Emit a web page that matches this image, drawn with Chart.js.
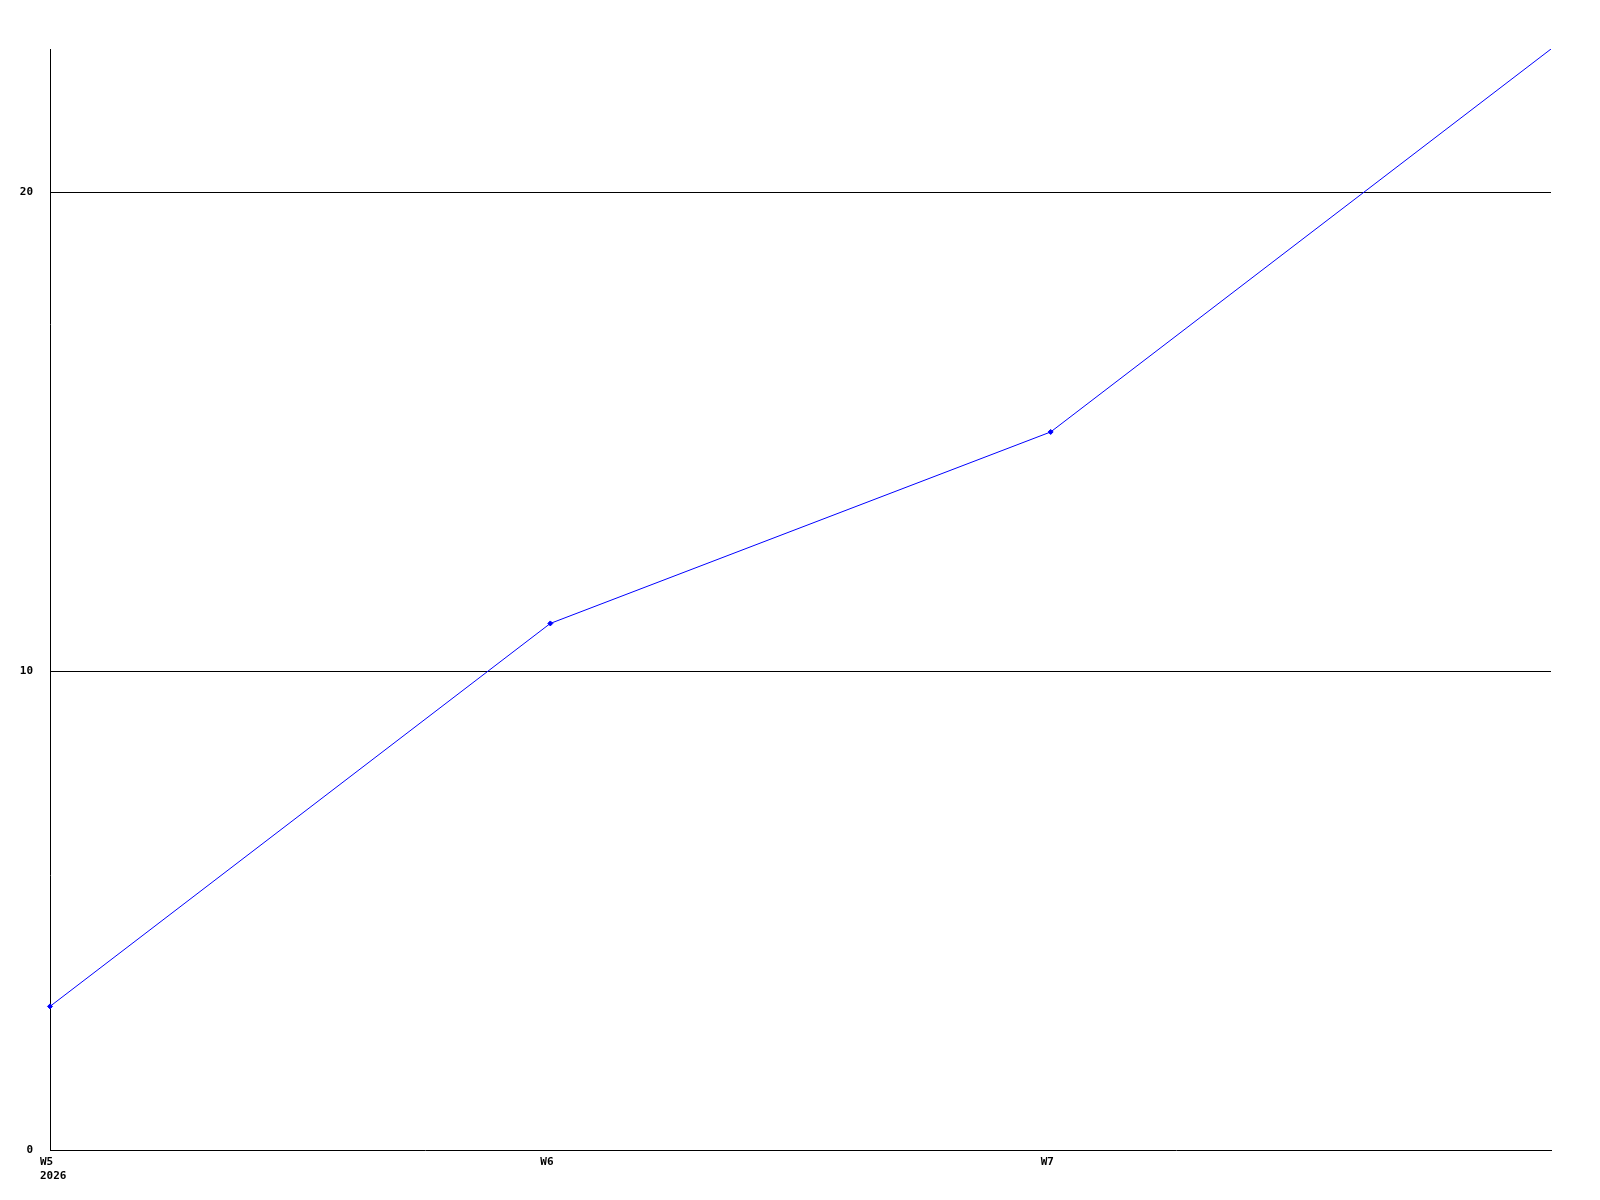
<!DOCTYPE html>
<html>
<head>
<meta charset="utf-8">
<script src="https://cdn.jsdelivr.net/npm/chart.js@4"></script>
<style>
  html, body { margin: 0; padding: 0; background: #fff; }
  canvas { display: block; }
</style>
</head>
<body>
<canvas id="chart" width="1600" height="1200"></canvas>
<script>
// weeks on the x axis, last one has no label
const WEEKS = ['W5', 'W6', 'W7', 'W8'];
const YEAR_LABEL = '2026';
const VALUES = [3, 11, 15, 23];
const Y_MAX = 23;
const Y_STEP = 10;

const FONT = { family: "'DejaVu Sans Mono', monospace", size: 11, weight: 'bold' };

// only the round steps get a grid line (not 0, not the top)
const isStep = v => v !== 0 && v % Y_STEP === 0;

const ctx = document.getElementById('chart').getContext('2d');
new Chart(ctx, {
  type: 'line',
  data: {
    labels: WEEKS,
    datasets: [{
      data: VALUES,
      borderColor: '#0000ff',
      backgroundColor: '#0000ff',
      borderWidth: 1,
      pointStyle: 'rectRot',
      pointRadius: c => (c.dataIndex === VALUES.length - 1 ? 0 : 2.5),
      pointBorderWidth: 1,
      tension: 0,
      fill: false
    }]
  },
  options: {
    responsive: false,
    animation: false,
    layout: { padding: { top: 49, right: 49, left: 0, bottom: 0 } },
    plugins: {
      legend: { display: false },
      tooltip: { enabled: false },
      title: { display: false }
    },
    scales: {
      x: {
        type: 'category',
        offset: false,
        grid: { display: false, drawTicks: false },
        border: { display: true, color: '#000', width: 1 },
        ticks: {
          color: '#000',
          font: FONT,
          align: 'start',
          labelOffset: -10,
          padding: 6,
          maxRotation: 0,
          autoSkip: false,
          callback: (v, i) => {
            if (i === WEEKS.length - 1) return '';
            return i === 0 ? [WEEKS[i], YEAR_LABEL] : WEEKS[i];
          }
        },
        afterFit: s => { s.height = 50; }
      },
      y: {
        min: 0,
        max: Y_MAX,
        grid: {
          color: c => (c.tick && isStep(c.tick.value) ? '#000' : 'rgba(0,0,0,0)'),
          lineWidth: 1,
          drawTicks: false
        },
        border: { display: true, color: '#000', width: 1 },
        ticks: {
          stepSize: Y_STEP,
          color: '#000',
          font: FONT,
          padding: 17,
          callback: v => (v % Y_STEP === 0 ? String(v) : '')
        },
        afterFit: s => { s.width = 50; }
      }
    }
  }
});
</script>
</body>
</html>
